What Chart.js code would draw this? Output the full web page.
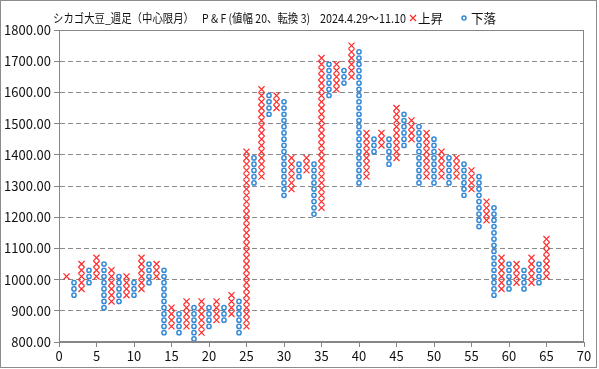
<!DOCTYPE html>
<html>
<head>
<meta charset="utf-8">
<script src="https://cdn.jsdelivr.net/npm/chart.js@4"></script>
<style>
  html, body { margin: 0; padding: 0; background: #fff; }
</style>
</head>
<body>
<canvas id="pf" width="599" height="369"></canvas>
<script>
// P&F columns, box size 20, reversal 3
const BOX = 20;
const colKind = 'XOXOXOXOXO' + 'XOXOXOXOXO' + 'XOXOXOXOXO' + 'XOXOXOXOXO' + 'XOXOXOXOXO' + 'XOXOXOXOXO' + 'XOXOX';
const colLow = [
  1010, 950, 970, 990, 1010, 910, 930, 930, 950, 950,
  970, 990, 1010, 830, 850, 830, 850, 810, 830, 850,
  870, 870, 890, 830, 850, 1310, 1330, 1530, 1550, 1270,
  1290, 1330, 1350, 1210, 1230, 1590, 1610, 1630, 1650, 1310,
  1330, 1410, 1430, 1370, 1390, 1430, 1450, 1310, 1330, 1310,
  1330, 1310, 1330, 1270, 1290, 1170, 1190, 950, 970, 970,
  990, 970, 990, 990, 1010
];
const colHigh = [
  1010, 990, 1050, 1030, 1070, 1050, 1030, 1010, 1010, 990,
  1070, 1050, 1050, 1030, 910, 890, 930, 910, 930, 910,
  930, 910, 950, 930, 1410, 1390, 1610, 1590, 1590, 1570,
  1390, 1370, 1390, 1370, 1710, 1690, 1690, 1670, 1750, 1730,
  1470, 1450, 1470, 1450, 1550, 1530, 1510, 1490, 1470, 1450,
  1410, 1390, 1390, 1370, 1350, 1330, 1250, 1230, 1070, 1050,
  1050, 1030, 1070, 1050, 1130
];
const yTicks = [800, 900, 1000, 1100, 1200, 1300, 1400, 1500, 1600, 1700, 1800];
const xTicks = [0, 5, 10, 15, 20, 25, 30, 35, 40, 45, 50, 55, 60, 65, 70];

const RED = '#ff2a2a';
const BLUE = '#3389d8';
const FONT = '"Noto Sans CJK JP", "Noto Sans", sans-serif';

// expand every column into its boxes
const upPts = [];
const downPts = [];
colKind.split('').forEach((k, i) => {
  for (let v = colLow[i]; v <= colHigh[i]; v += BOX) {
    (k === 'X' ? upPts : downPts).push({ x: i + 1, y: v });
  }
});

const framePlugin = {
  id: 'frame',
  afterDraw(chart) {
    const { ctx, chartArea: a } = chart;
    ctx.save();
    ctx.lineWidth = 1;
    ctx.strokeStyle = '#868686';
    ctx.strokeRect(Math.round(a.left) + 0.5, Math.round(a.top) + 0.5,
                   Math.round(a.right - a.left) - 1, Math.round(a.bottom - a.top) - 1);
    ctx.strokeStyle = '#8c8c8c';
    ctx.strokeRect(0.5, 0.5, 596, 367);

    // title
    ctx.fillStyle = '#111';
    ctx.font = '12px ' + FONT;
    ctx.textBaseline = 'middle';
    ctx.textAlign = 'left';
    ctx.fillText('シカゴ大豆_週足（中心限月）', 53, 18, 141);
    ctx.fillText('P & F (値幅 20、転換 3)', 202, 18, 108);
    ctx.fillText('2024.4.29～11.10', 320, 18, 86);

    // legend
    ctx.strokeStyle = RED;
    ctx.lineWidth = 1.2;
    ctx.beginPath();
    ctx.moveTo(410, 15); ctx.lineTo(416, 21);
    ctx.moveTo(416, 15); ctx.lineTo(410, 21);
    ctx.stroke();
    ctx.font = '13px ' + FONT;
    ctx.fillText('上昇', 418, 18, 25);
    ctx.strokeStyle = BLUE;
    ctx.lineWidth = 1.5;
    ctx.beginPath();
    ctx.arc(464, 18, 2, 0, Math.PI * 2);
    ctx.fillStyle = '#fff';
    ctx.fill();
    ctx.stroke();
    ctx.fillStyle = '#111';
    ctx.fillText('下落', 471, 18, 25);
    ctx.restore();
  }
};

new Chart(document.getElementById('pf').getContext('2d'), {
  type: 'scatter',
  data: {
    datasets: [
      {
        label: '上昇',
        data: upPts,
        pointStyle: 'crossRot',
        pointRadius: 4.3,
        pointBorderWidth: 1.2,
        borderColor: RED,
        backgroundColor: RED
      },
      {
        label: '下落',
        data: downPts,
        pointStyle: 'circle',
        pointRadius: 2.1,
        pointBorderWidth: 1.5,
        borderColor: BLUE,
        backgroundColor: '#fff'
      }
    ]
  },
  options: {
    responsive: false,
    animation: false,
    devicePixelRatio: 1,
    layout: { padding: { left: 0, top: 30, right: 15, bottom: 0 } },
    plugins: {
      legend: { display: false },
      title: { display: false },
      tooltip: { enabled: false }
    },
    scales: {
      x: {
        type: 'linear',
        min: xTicks[0],
        max: xTicks[xTicks.length - 1],
        afterBuildTicks: s => { s.ticks = xTicks.map(v => ({ value: v })); },
        afterFit: s => { s.height = 27; },
        grid: { drawOnChartArea: false, drawTicks: true, tickLength: 5, tickColor: '#868686' },
        border: { color: '#868686', width: 1 },
        ticks: { color: '#111', font: { family: FONT, size: 13 }, padding: 1, maxRotation: 0 }
      },
      y: {
        min: yTicks[0],
        max: yTicks[yTicks.length - 1],
        afterBuildTicks: s => { s.ticks = yTicks.map(v => ({ value: v })); },
        afterFit: s => { s.width = 59; },
        grid: { color: '#8a8a8a', tickLength: 5, tickColor: '#868686', tickBorderDash: [] },
        border: { color: '#868686', width: 1, dash: [5, 3] },
        ticks: { color: '#111', font: { family: FONT, size: 13 }, padding: 3, callback: v => v.toFixed(2) }
      }
    }
  },
  plugins: [framePlugin]
});
</script>
</body>
</html>
